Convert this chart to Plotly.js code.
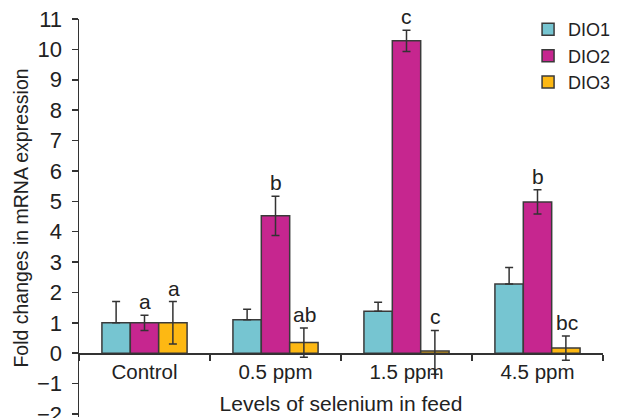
<!DOCTYPE html>
<html>
<head>
<meta charset="utf-8">
<script src="https://cdn.plot.ly/plotly-3.0.1.min.js"></script>
<style>html,body{margin:0;padding:0;background:#fff;}#chart{width:617px;height:418px;}</style>
</head>
<body>
<div id="chart"></div>
<script>
const categories = ["Control", "0.5 ppm", "1.5 ppm", "4.5 ppm"];
const seriesNames = ["DIO1", "DIO2", "DIO3"];
const dio1 = [1.0, 1.1, 1.38, 2.28];
const dio2 = [1.0, 4.52, 10.28, 4.98];
const dio3 = [1.0, 0.35, 0.07, 0.17];
const dio1ErrUp = [0.7, 0.35, 0.3, 0.54];
const dio1ErrDown = [0, 0, 0, 0];
const dio2ErrUp = [0.25, 0.65, 0.35, 0.4];
const dio2ErrDown = [0.25, 0.65, 0.35, 0.4];
const dio3ErrUp = [0.7, 0.48, 0.68, 0.4];
const dio3ErrDown = [0.7, 0.48, 0.76, 0.4];
const dio2Letters = ["a", "b", "c", "b"];
const dio3Letters = ["a", "ab", "c", "bc"];

const colors = ["#76c5d1", "#c6268f", "#fdb813"];
const values = [dio1, dio2, dio3];
const errUp = [dio1ErrUp, dio2ErrUp, dio3ErrUp];
const errDown = [dio1ErrDown, dio2ErrDown, dio3ErrDown];

const W = 617, H = 418;
const margin = {l: 79, r: 2, t: 19, b: 1, pad: 0};
const bargap = 0.35;
const yRange = [-2.1, 11];
const FONT = "Liberation Sans, Arial, sans-serif";

const traces = seriesNames.map((name, i) => ({
  type: "bar",
  name: name,
  x: categories,
  y: values[i],
  marker: {color: colors[i], line: {color: "#3a3a3a", width: 1.5}},
  error_y: {type: "data", symmetric: false, array: errUp[i], arrayminus: errDown[i],
            color: "#333333", thickness: 1.5, width: 4},
  hoverinfo: "none"
}));

const plotW = W - margin.l - margin.r;
const catW = plotW / categories.length;
const barW = catW * (1 - bargap) / 3;

const annotations = [];
[dio2Letters, dio3Letters].forEach((letters, k) => {
  const si = k + 1;
  letters.forEach((lt, j) => {
    annotations.push({
      x: categories[j], y: values[si][j] + errUp[si][j],
      xref: "x", yref: "y", text: lt, showarrow: false,
      yanchor: "bottom", xanchor: "center",
      xshift: (si - 1) * barW, yshift: 0,
      font: {family: FONT, size: 21, color: "#222"}
    });
  });
});

const layout = {
  width: W, height: H, margin: margin,
  paper_bgcolor: "#fff", plot_bgcolor: "#fff",
  font: {family: FONT, size: 20, color: "#222"},
  barmode: "group", bargap: bargap, bargroupgap: 0,
  showlegend: true,
  legend: {x: 0.857, y: 1.02, xanchor: "left", yanchor: "top",
           font: {size: 18, color: "#222"}, bgcolor: "rgba(0,0,0,0)",
           itemwidth: 30, tracegroupgap: 0},
  xaxis: {type: "category", anchor: "free",
          position: (0 - yRange[0]) / (yRange[1] - yRange[0]),
          showline: true, linecolor: "#333", linewidth: 1.5,
          ticks: "outside", tickson: "boundaries", ticklen: 6, tickcolor: "#333", tickwidth: 1.5,
          showgrid: false, zeroline: false, range: [-0.5, 3.5],
          tickfont: {size: 20.5},
          title: {text: "Levels of selenium in feed", font: {size: 21}, standoff: 14}},
  yaxis: {range: yRange, dtick: 1, tick0: 0,
          showline: true, linecolor: "#333", linewidth: 1.5,
          ticks: "outside", ticklen: 6, tickcolor: "#333", tickwidth: 1.5,
          ticklabelstandoff: 5, ticklabeloverflow: "allow",
          showgrid: false, zeroline: false,
          tickfont: {size: 22},
          title: {text: "Fold changes in mRNA expression", font: {size: 19.5}, standoff: 3}},
  annotations: annotations
};

Plotly.newPlot("chart", traces, layout, {displayModeBar: false, staticPlot: true});
</script>
</body>
</html>
